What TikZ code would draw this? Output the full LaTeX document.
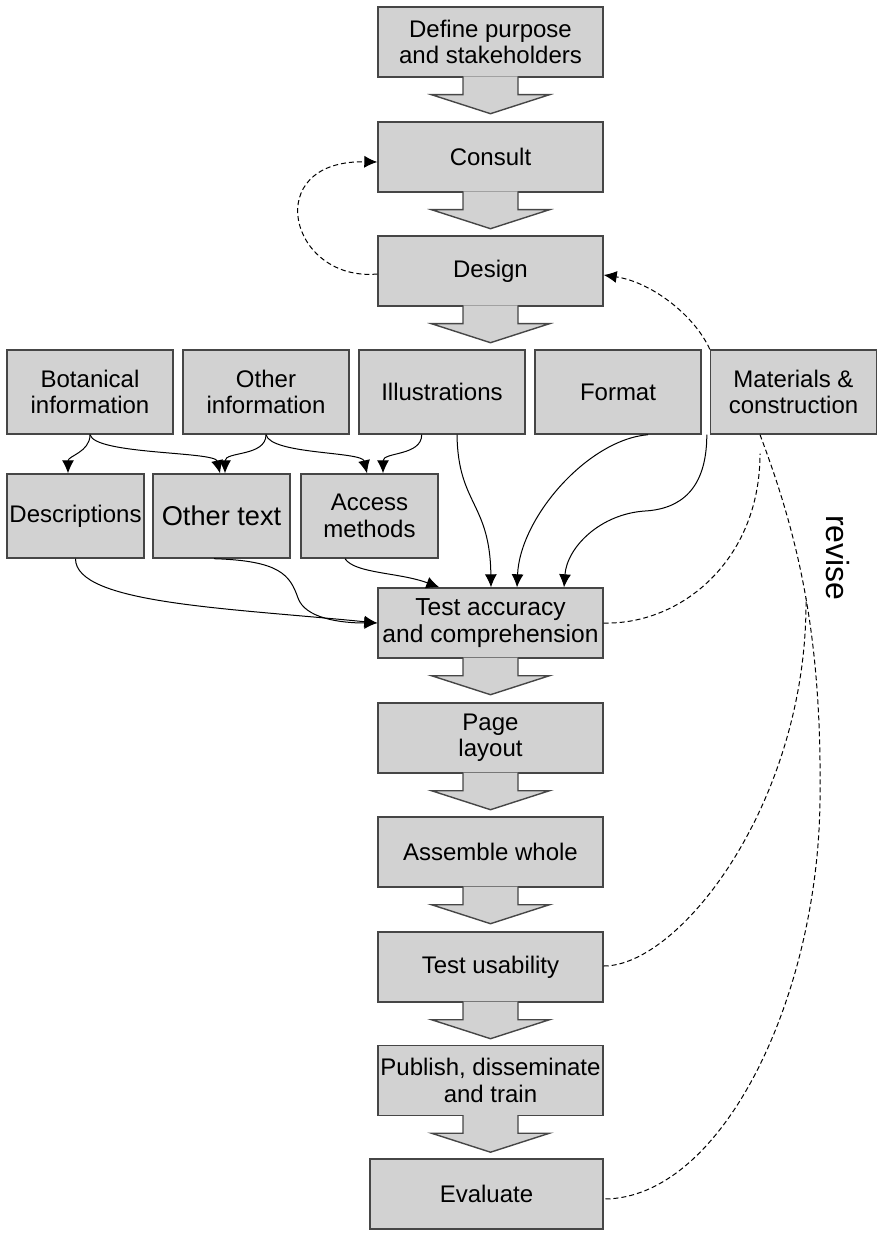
\documentclass[tikz,border=0pt]{standalone}
\usepackage{fontspec}
\setmainfont{Liberation Sans}
\usepackage{tikz}
\usetikzlibrary{arrows.meta,calc}
\definecolor{boxgray}{RGB}{210,210,210}
\definecolor{edgegray}{RGB}{70,70,70}
\tikzstyle{stage}=[rectangle, draw=edgegray, fill=boxgray, line width=0.7pt, inner sep=0pt, align=center, minimum width=112.5pt, minimum height=35pt, font=\fontsize{12}{13.2}\selectfont]
\tikzstyle{part}=[stage, minimum width=83pt, minimum height=42pt]
\tikzstyle{textpart}=[stage, minimum width=68.5pt, minimum height=42pt]
\tikzstyle{blockarrow}=[fill=boxgray, draw=edgegray, line width=0.7pt]
\tikzstyle{feed}=[-{Latex[length=6.5pt,width=6pt]}, line width=0.5pt]
\tikzstyle{revision}=[line width=0.5pt, dash pattern=on 2.5pt off 1.5pt]
\tikzstyle{revisearrow}=[revision, -{Latex[length=6.5pt,width=6pt]}]

\begin{document}
\begin{tikzpicture}[x=0.5pt,y=-0.5pt]
				\useasboundingbox (0,0) rectangle (877,1235);

				%The main column
				\draw (490.5,42) node[stage] (define) {Define purpose\\and stakeholders};
				\draw (490.5,157) node[stage] (consult) {Consult};
				\draw (490.5,271) node[stage] (design) {Design};
				\draw (490.5,623) node[stage, font=\fontsize{12.3}{13.6}\selectfont] (test) {Test accuracy\\and comprehension};
				\draw (490.5,738) node[stage] (page) {Page\\layout};
				\draw (490.5,852) node[stage] (assemble) {Assemble whole};
				\draw (490.5,967) node[stage] (usability) {Test usability};
				\draw (490.5,1080.5) node[stage] (publish) {Publish, disseminate\\and train};
				\draw (486.5,1194) node[stage, minimum width=116.5pt] (evaluate) {Evaluate};

				%The parts
				\draw (90,392) node[part] (botanical) {Botanical\\information};
				\draw (266,392) node[part] (otherinfo) {Other\\information};
				\draw (442,392) node[part] (illustrations) {Illustrations};
				\draw (618,392) node[part] (format) {Format};
				\draw (793.5,392) node[part] (materials) {Materials \&\\construction};

				\draw (75.5,516) node[textpart] (descriptions) {Descriptions};
				\draw (221.5,516) node[textpart, font=\fontsize{13.6}{15}\selectfont] (othertext) {Other text};
				\draw (369.5,516) node[textpart] (access) {Access\\methods};

				%The block arrows
				\foreach \a in {define,consult,design,test,page,assemble,usability,publish}
					\path[blockarrow] ($(\a.south)+(-27.5,-1.2)$) -- ++(0,18.2) -- ++(-31.5,0) -- ($(\a.south)+(0,36)$) -- ++(59,-19) -- ++(-31.5,0) -- ++(0,-18.2);

				%The text links
				\draw[feed] (botanical.south) to[out=-90,in=90] ($(descriptions.north)+(-7.5,0)$);
				\draw[feed] (botanical.south) .. controls +(5,20) and +(-5,-22) .. ($(othertext.north)+(-1.5,0)$);
				\draw[feed] (otherinfo.south) to[out=-90,in=90] ($(othertext.north)+(3.5,0)$);
				\draw[feed] (otherinfo.south) .. controls +(5,20) and +(-5,-22) .. ($(access.north)+(-2.5,0)$);
				\draw[feed] ($(illustrations.south)+(-20.3,0)$) to[out=-90,in=90] ($(access.north)+(13.5,0)$);

				\draw[feed] (descriptions.south) .. controls +(0,45) and +(-150,-15) .. (test.west);
				\draw[feed] ($(othertext.south)+(-7.5,0)$) .. controls +(66,2) and +(-8,-23) .. (298,598) .. controls +(7,20) and +(-38,0) .. (test.west);
				\draw[feed] ($(access.south)+(-24.5,0)$) .. controls +(10,15) and +(-40,-15) .. ($(test.north west)+(62,0)$);
				\draw[feed] ($(illustrations.south)+(15,0)$) .. controls +(1,70) and +(-1,-85) .. ($(test.north)+(0.5,0)$);
				\draw[feed] ($(format.south)+(30,0)$) .. controls +(-60,5) and +(3,-70) .. ($(test.north)+(26.5,0)$);
				\draw[feed] ($(materials.south west)+(-3,0)$) .. controls +(0,55) and +(35,-2) .. (645,511) .. controls +(-45,3) and +(3,-40) .. ($(test.north)+(73.5,0)$);

				%The revisions
				\coordinate (matjoin) at ($(materials.south)+(-33.5,19)$);
				\coordinate (usejoin) at (806,598);
				\draw[revisearrow] ($(design.west)+(0,3)$) .. controls +(-88,8) and +(-118,-2) .. ($(consult.west)+(0,5)$);
				\draw[revisearrow] (materials.north west) .. controls +(-16,-35) and +(47,7) .. ($(design.east)+(0,4)$);
				\draw[revision] (test.east) .. controls +(77,2) and +(0,107) .. (matjoin);
				\draw[revision] ($(materials.south)+(-33.5,0)$) .. controls +(40,106) and +(2,-160) .. (820,800) .. controls +(-2,200) and +(117,0) .. ($(evaluate.east)+(0,5)$);
				\draw[revision] ($(usability.east)+(0,-1)$) .. controls +(77,0) and +(2,202) .. (usejoin);

				\draw (838,558) node[rotate=-90, font=\fontsize{16}{18}\selectfont] (revise) {revise};
			\end{tikzpicture}
\end{document}
